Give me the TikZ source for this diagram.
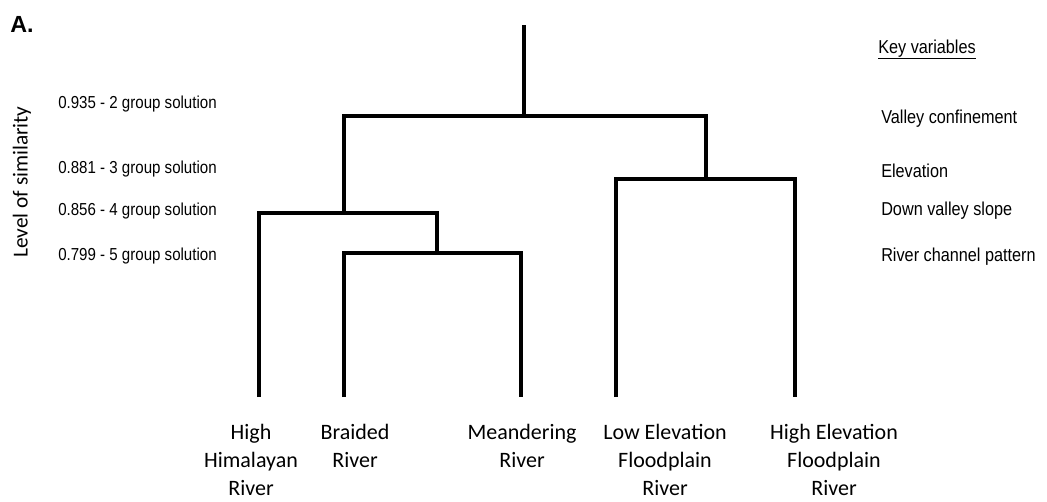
\documentclass[tikz,border=0pt]{standalone}
\usepackage{fontspec}
\setmainfont{Carlito}
\newfontfamily\arialc[FakeStretch=0.87]{Liberation Sans}
\newfontfamily\arialn{Liberation Sans}
\begin{document}
\begin{tikzpicture}[x=0.75pt,y=-0.75pt,
  link/.style={line width=2.5pt, line join=miter},
  leaf/.style={anchor=north, align=center, inner sep=0pt, font=\fontsize{16.5}{21}\selectfont},
  lvl/.style={anchor=base west, inner sep=0pt, font=\arialc\fontsize{13}{15}\selectfont},
  keyv/.style={anchor=base west, inner sep=0pt, font=\arialc\fontsize{14}{16}\selectfont}]
\useasboundingbox (0,0) rectangle (1047,501);
% junction coordinates
\coordinate (r0) at (524,25);
\coordinate (n2) at (524,116);
\coordinate (n3L) at (344,213);
\coordinate (n3R) at (706,179);
\coordinate (n4) at (437,253);
\coordinate (L1) at (259,397);
\coordinate (L2) at (344,397);
\coordinate (L3) at (521,397);
\coordinate (L4) at (616,397);
\coordinate (L5) at (795,397);
% dendrogram
\draw[link] (r0) -- (n2);
\draw[link] (n3L) |- (n2) -| (n3R);
\draw[link] (L1) |- (n3L) -| (n4);
\draw[link] (L2) |- (n4) -| (L3);
\draw[link] (L4) |- (n3R) -| (L5);
% leaf labels
\node[leaf] (t1) at (251,424) {High\\Himalayan\\River};
\node[leaf] (t2) at (355,424) {Braided\\River};
\node[leaf] (t3) at (522,424) {Meandering\\River};
\node[leaf] (t4) at (665,424) {Low Elevation\\Floodplain\\River};
\node[leaf] (t5) at (834,424) {High Elevation\\Floodplain\\River};
% panel letter
\node[anchor=base west, inner sep=0pt, font=\arialn\bfseries\fontsize{17.5}{20}\selectfont] (pa) at (10,32) {A.};
% axis title
\node[rotate=90, inner sep=0pt, font=\fontsize{16}{18}\selectfont] (yt) at (22,182) {Level of similarity};
% level labels
\node[lvl] (g2) at (58,108) {0.935 - 2 group solution};
\node[lvl] (g3) at (58,173) {0.881 - 3 group solution};
\node[lvl] (g4) at (58,215) {0.856 - 4 group solution};
\node[lvl] (g5) at (58,260) {0.799 - 5 group solution};
% key variables
\node[keyv] (kv) at (878,53) {\underline{Key variables}};
\node[keyv] (k1) at (881,123) {Valley confinement};
\node[keyv] (k2) at (881,177) {Elevation};
\node[keyv] (k3) at (881,215) {Down valley slope};
\node[keyv] (k4) at (881,261) {River channel pattern};
\end{tikzpicture}
\end{document}
